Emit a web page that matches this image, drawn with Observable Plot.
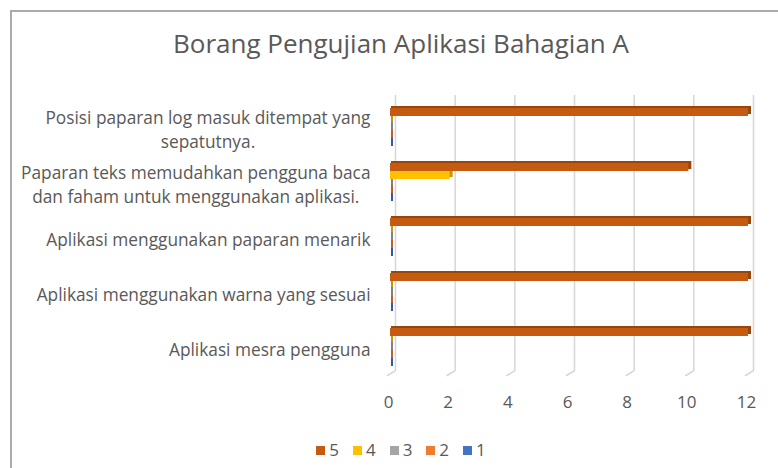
<!DOCTYPE html>
<html>
<head>
<meta charset="utf-8">
<script src="https://cdn.jsdelivr.net/npm/d3@7"></script>
<script src="https://cdn.jsdelivr.net/npm/@observablehq/plot@0.6"></script>
<style>
html, body { margin: 0; padding: 0; overflow: hidden; background: #fff; width: 778px; height: 468px; }
#chart { position: absolute; left: 10px; top: 10px; width: 778px; height: 470px; border: 2px solid #ababab;
  font-family: 'Open Sans', sans-serif; color: #595959; background: #fff; }
#title { height: 58px; box-sizing: border-box; padding-top: 13px; font-size: 26px; line-height: 36px; text-align: center; white-space: nowrap; }
#legend { box-sizing: border-box; padding-top: 18px; height: 38px; display: flex; justify-content: center; align-items: center; font-size: 17px; line-height: 20px; }
#legend .item { display: flex; align-items: center; margin: 0 7px; }
#legend .sw { display: inline-block; width: 9px; height: 9px; margin-right: 4px; }
svg { display: block; }
</style>
</head>
<body>
<div id="chart">
  <div id="title">Borang Pengujian Aplikasi Bahagian A</div>
  <div id="plot"></div>
  <div id="legend"></div>
</div>
<script>
// Categories, top to bottom as shown
const categories = [
  "Posisi paparan log masuk ditempat yang sepatutnya.",
  "Paparan teks memudahkan pengguna baca dan faham untuk menggunakan aplikasi.",
  "Aplikasi menggunakan paparan menarik",
  "Aplikasi menggunakan warna yang sesuai",
  "Aplikasi mesra pengguna"
];
// Wrapped label text as shown
const categoryLabels = [
  "Posisi paparan log masuk ditempat yang\nsepatutnya.",
  "Paparan teks memudahkan pengguna baca\ndan faham untuk menggunakan aplikasi.",
  "Aplikasi menggunakan paparan menarik",
  "Aplikasi menggunakan warna yang sesuai",
  "Aplikasi mesra pengguna"
];
const seriesNames = ["5", "4", "3", "2", "1"];
const seriesColors = ["#c55a11", "#ffc000", "#a5a5a5", "#ed7d31", "#4472c4"];
const values5 = [12, 10, 12, 12, 12];
const values4 = [0, 2, 0, 0, 0];
const values3 = [0, 0, 0, 0, 0];
const values2 = [0, 0, 0, 0, 0];
const values1 = [0, 0, 0, 0, 0];
const xTicks = [0, 2, 4, 6, 8, 10, 12];

const seriesValues = [values5, values4, values3, values2, values1];
const rows = seriesNames.map((s, si) =>
  categories.map((c, ci) => ({cat: c, series: s, value: seriesValues[si][ci]})));

const labelFont = 17.3;
// measure label block widths to center wrapped lines inside a right-aligned box
const ctx = document.createElement("canvas").getContext("2d");
ctx.font = labelFont + "px 'Open Sans'";
const labelWidths = categoryLabels.map(t => Math.max(...t.split("\n").map(l => ctx.measureText(l).width)));

const depthMarks = rows.map((data, si) => Plot.barX(data, {
  x: "value", y: "series", fy: "cat",
  fill: d3.color(seriesColors[si]).darker(0.7).formatHex(),
  dx: 1, dy: -2, insetRight: -2
}));
const frontMarks = rows.map((data, si) => Plot.barX(data, {
  x: "value", y: "series", fy: "cat", fill: seriesColors[si]
}));
const labelMarks = categories.map((c, i) => Plot.text([{cat: c, label: categoryLabels[i]}], {
  fy: "cat", text: "label", frameAnchor: "left", textAnchor: "middle",
  dx: -(20 + labelWidths[i] / 2), lineHeight: 24 / labelFont, fill: "#595959", fontSize: labelFont
}));

const lastCat = categories[categories.length - 1];
const slantShape = {draw(context, l) { context.moveTo(0, 0); context.lineTo(0, -l); }};

const plot = Plot.plot({
  width: 778,
  height: 352,
  marginLeft: 378,
  marginRight: 42,
  marginTop: 28,
  marginBottom: 46,
  style: {fontFamily: "'Open Sans', sans-serif", fontSize: "17px", color: "#595959", background: "transparent", overflow: "visible"},
  x: {domain: [0, 12]},
  y: {domain: seriesNames, paddingInner: 0, paddingOuter: 0.8, axis: null},
  fy: {domain: categories, padding: 0, axis: null},
  marks: [
    Plot.ruleX(xTicks, {x: d => d, stroke: "#d6d6d6", strokeWidth: 1.5, dx: 5, dy: -5}),
    Plot.vector(xTicks, {x: d => d, fy: () => lastCat, frameAnchor: "bottom", anchor: "start",
      length: 9.4, rotate: 58, shape: slantShape, stroke: "#d6d6d6", strokeWidth: 1.5, dx: -3}),
    ...depthMarks,
    ...frontMarks,
    ...labelMarks,
    Plot.axisX(xTicks, {tickSize: 0, tickPadding: 20, dx: -2, fontSize: 17, fill: "#595959", label: null})
  ]
});
document.getElementById("plot").appendChild(plot);

const legend = document.getElementById("legend");
seriesNames.forEach((s, i) => {
  const item = document.createElement("span");
  item.className = "item";
  const sw = document.createElement("span");
  sw.className = "sw";
  sw.style.background = seriesColors[i];
  item.appendChild(sw);
  item.appendChild(document.createTextNode(s));
  legend.appendChild(item);
});
</script>
</body>
</html>
